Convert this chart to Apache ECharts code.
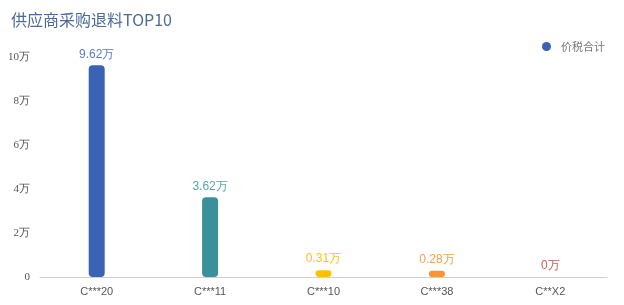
<!DOCTYPE html>
<html>
<head>
<meta charset="utf-8">
<script src="https://cdn.jsdelivr.net/npm/echarts@6/dist/echarts.min.js"></script>
<style>html,body{margin:0;padding:0;background:#fff}#c{width:624px;height:305px}</style>
</head>
<body>
<div id="c"></div>
<script>
const categories = ['C***20', 'C***11', 'C***10', 'C***38', 'C**X2'];
const values = [9.62, 3.62, 0.31, 0.28, 0];
const barColors = ['#3a63b4', '#3a9199', '#ffc000', '#f59535', '#c0504d'];
const labelColors = ['#5a7ec0', '#5aa3aa', '#f5c518', '#f5a050', '#c86060'];
const yTicks = [0, 2, 4, 6, 8, 10];

const chart = echarts.init(document.getElementById('c'), null, {renderer: 'canvas'});
chart.setOption({
  animation: false,
  title: {
    text: '供应商采购退料TOP10',
    left: 6, top: 7,
    textStyle: {fontSize: 16, fontWeight: 'normal', color: '#4b6a96', fontFamily: 'Noto Sans CJK SC'}
  },
  legend: {
    right: 14, top: 36,
    icon: 'circle', itemWidth: 9, itemHeight: 9, itemGap: 6,
    textStyle: {fontSize: 11, color: '#777', fontFamily: 'Noto Sans CJK SC', padding: [0, 0, 0, 5]},
    data: ['价税合计']
  },
  grid: {left: 40, right: 17, top: 57, bottom: 28, containLabel: false},
  xAxis: {
    type: 'category',
    data: categories,
    axisLine: {lineStyle: {color: '#d0d0d0'}},
    axisTick: {show: false},
    axisLabel: {color: '#555', fontSize: 11, margin: 9, fontFamily: 'Liberation Sans'}
  },
  yAxis: {
    type: 'value',
    min: yTicks[0], max: yTicks[yTicks.length - 1], interval: 2,
    splitLine: {show: false},
    axisLine: {show: false},
    axisTick: {show: false},
    axisLabel: {
      color: '#555', fontSize: 11, margin: 10, fontFamily: 'Liberation Serif',
      formatter: v => v === 0 ? '0' : v + '万'
    }
  },
  series: [{
    name: '价税合计',
    type: 'bar',
    barWidth: 16,
    itemStyle: {color: barColors[0], borderRadius: 4},
    data: values.map((v, i) => ({
      value: v,
      itemStyle: {color: barColors[i], borderRadius: 4},
      label: {color: labelColors[i]}
    })),
    label: {
      show: true, position: 'top', distance: 5,
      fontSize: 12, fontFamily: 'Liberation Sans',
      formatter: p => p.value + '万'
    }
  }]
});
</script>
</body>
</html>
